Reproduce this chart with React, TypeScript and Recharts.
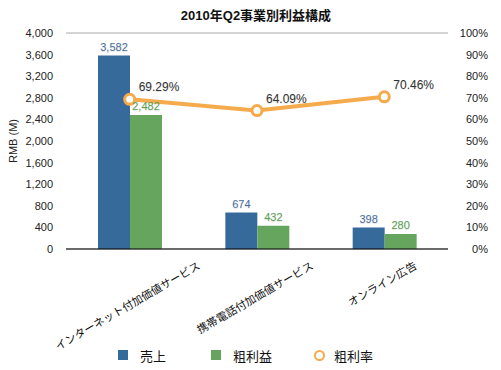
import {
  ComposedChart,
  Bar,
  Line,
  XAxis,
  YAxis,
  CartesianGrid,
  Legend,
  LabelList,
} from 'recharts'

const categories = ['インターネット付加価値サービス', '携帯電話付加価値サービス', 'オンライン広告']
const sales = [3582, 674, 398]
const grossProfit = [2482, 432, 280]
const marginRate = [69.29, 64.09, 70.46]
const leftTicks = [0, 400, 800, 1200, 1600, 2000, 2400, 2800, 3200, 3600, 4000]
const rightTicks = [0, 10, 20, 30, 40, 50, 60, 70, 80, 90, 100]

const data = categories.map((name, i) => ({
  name,
  売上: sales[i],
  粗利益: grossProfit[i],
  粗利率: marginRate[i],
}))

const FONT = '"Liberation Sans", "Noto Sans CJK JP", sans-serif'
const BLUE = '#366a9b'
const GREEN = '#66a55e'
const ORANGE = '#f5aa4c'

function CategoryTick(props: any) {
  const { x, y, payload } = props
  const text = String(payload.value)
  const len = text.length * 11
  const ax = x + (len * Math.cos(Math.PI / 6)) / 2
  return (
    <g transform={`translate(${ax},${y + 17}) rotate(-30)`}>
      <text textAnchor="end" fontSize={11} fill="#111" fontFamily={FONT}>
        {text}
      </text>
    </g>
  )
}

function RightTick(props: any) {
  const { x, y, payload } = props
  return (
    <text x={x + 40} y={y + 4} textAnchor="end" fontSize={11} fill="#222" fontFamily={FONT}>
      {payload.value}%
    </text>
  )
}

function barLabel(color: string) {
  return (p: any) => (
    <text
      x={p.x + p.width / 2}
      y={p.y - 5}
      textAnchor="middle"
      fontSize={11}
      fill={color}
      fontFamily={FONT}
      style={{ textShadow: '0 1px 1px rgba(0,0,0,0.12)' }}
    >
      {Number(p.value).toLocaleString('en-US')}
    </text>
  )
}

function rateLabel(p: any) {
  return (
    <text
      x={p.x + 9}
      y={p.y - 8}
      fontSize={12}
      fill="#333"
      fontFamily={FONT}
      style={{ textShadow: '0 1px 1px rgba(0,0,0,0.12)' }}
    >
      {Number(p.value).toFixed(2)}%
    </text>
  )
}

function LegendBox() {
  const item = { display: 'flex', alignItems: 'center', fontSize: 13, color: '#111' }
  return (
    <div style={{ display: 'flex', paddingLeft: 118, height: 20, alignItems: 'center', fontFamily: FONT }}>
      <div style={item}>
        <span style={{ width: 10, height: 10, background: BLUE, marginRight: 12 }} />
        売上
      </div>
      <div style={{ ...item, marginLeft: 45 }}>
        <span style={{ width: 10, height: 10, background: GREEN, marginRight: 12 }} />
        粗利益
      </div>
      <div style={{ ...item, marginLeft: 42 }}>
        <span
          style={{
            width: 7,
            height: 7,
            borderRadius: 6,
            border: `2.5px solid ${ORANGE}`,
            background: '#fff',
            marginRight: 9,
          }}
        />
        粗利率
      </div>
    </div>
  )
}

export default function App() {
  return (
    <div style={{ position: 'absolute', left: 0, top: 0, width: 501, height: 370, background: '#fff' }}>
      <div
        style={{
          position: 'absolute',
          top: 5,
          left: 0,
          width: 512,
          textAlign: 'center',
          fontWeight: 'bold',
          fontSize: 13,
          fontFamily: FONT,
          color: '#111',
        }}
      >
        2010年Q2事業別利益構成
      </div>
      <ComposedChart
        width={501}
        height={370}
        data={data}
        margin={{ top: 33, right: 0, bottom: 5, left: 0 }}
        barGap={0}
      >
        <CartesianGrid vertical={false} stroke="#aaa" />
        <XAxis
          dataKey="name"
          height={96}
          tickLine={false}
          tickSize={0}
          axisLine={{ stroke: '#000' }}
          tick={<CategoryTick />}
          interval={0}
        />
        <YAxis
          yAxisId="left"
          width={66}
          domain={[0, 4000]}
          ticks={leftTicks}
          interval={0}
          tickSize={0}
          tickMargin={13}
          axisLine={false}
          tickLine={false}
          tick={{ fontSize: 11, fill: '#222', fontFamily: FONT }}
          tickFormatter={(v: number) => v.toLocaleString('en-US')}
          label={{
            content: (p: any) => (
              <text
                transform={`translate(17,${p.viewBox.y + p.viewBox.height / 2}) rotate(-90)`}
                textAnchor="middle"
                fontSize={11}
                fill="#222"
                fontFamily={FONT}
              >
                RMB (M)
              </text>
            ),
          }}
        />
        <YAxis
          yAxisId="right"
          orientation="right"
          width={53}
          domain={[0, 100]}
          ticks={rightTicks}
          interval={0}
          tickSize={0}
          tickMargin={0}
          axisLine={false}
          tickLine={false}
          tick={<RightTick />}
        />
        <Legend verticalAlign="bottom" content={<LegendBox />} wrapperStyle={{ left: 0, width: 501 }} />
        <Bar yAxisId="left" dataKey="売上" fill={BLUE} barSize={32} isAnimationActive={false}>
          <LabelList dataKey="売上" content={barLabel('#4a6d9c')} />
        </Bar>
        <Bar yAxisId="left" dataKey="粗利益" fill={GREEN} barSize={32} isAnimationActive={false}>
          <LabelList dataKey="粗利益" content={barLabel('#5a9e52')} />
        </Bar>
        <Line
          yAxisId="right"
          dataKey="粗利率"
          stroke={ORANGE}
          strokeWidth={4}
          dot={{ r: 5, stroke: ORANGE, strokeWidth: 3, fill: '#fff' }}
          activeDot={false}
          isAnimationActive={false}
        >
          <LabelList dataKey="粗利率" content={rateLabel} />
        </Line>
      </ComposedChart>
    </div>
  )
}
